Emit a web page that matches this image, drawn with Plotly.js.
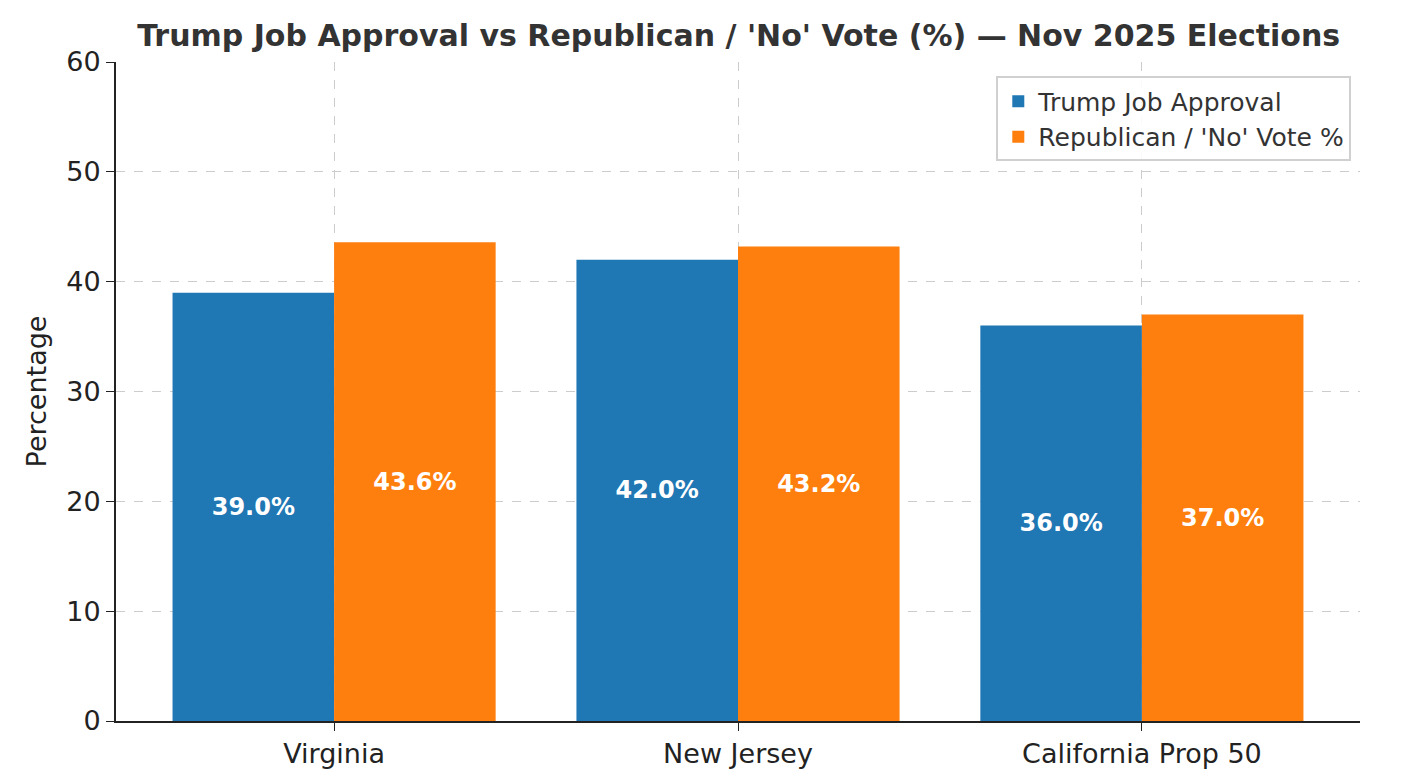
<!DOCTYPE html>
<html>
<head>
<meta charset="utf-8">
<script src="https://cdn.plot.ly/plotly-3.0.1.min.js"></script>
<style>body{margin:0;background:#fff}#app{width:1426px;height:780px}</style>
</head>
<body>
<div id="app"></div>
<script>
// chart data
let categories = ["Virginia", "New Jersey", "California Prop 50"];
let approval = [39.0, 42.0, 36.0];
let republican_vote = [43.6, 43.2, 37.0];
let series_names = ["Trump Job Approval", "Republican / 'No' Vote %"];
let series_colors = ["#1f77b4", "#ff7f0e"];
let y_ticks = [0, 10, 20, 30, 40, 50, 60];

function display() {
    let root = document.getElementById("app");
    let font = "DejaVu Sans, sans-serif";

    // build one bar trace per series
    let data = [approval, republican_vote].map((values, i) => ({
        type: "bar",
        name: series_names[i],
        x: categories,
        y: values,
        marker: {color: series_colors[i]},
        text: values.map(v => v.toFixed(1) + "%"),
        textposition: "inside",
        insidetextanchor: "middle",
        textangle: 0,
        textfont: {color: "white", size: 24, family: font, weight: "bold"},
        hoverinfo: "skip"
    }));

    let grid = {showgrid: true, gridcolor: "#cccccc", griddash: "dash", gridwidth: 1};

    let layout = {
        width: 1426,
        height: 780,
        barmode: "group",
        bargap: 0.2,
        bargroupgap: 0,
        paper_bgcolor: "white",
        plot_bgcolor: "white",
        font: {family: font, color: "#222", size: 27},
        margin: {l: 116, r: 66, t: 62, b: 59},
        title: {
            text: "<b>Trump Job Approval vs Republican / 'No' Vote (%) — Nov 2025 Elections</b>",
            font: {size: 30, color: "#333"},
            x: 0.518, xanchor: "center", y: 0.955, yanchor: "middle"
        },
        xaxis: Object.assign({
            range: [-0.54, 2.54],
            showline: true, linecolor: "#222", linewidth: 2,
            ticks: "outside", ticklen: 8, tickcolor: "#222",
            zeroline: false
        }, grid),
        yaxis: Object.assign({
            range: [0, 60],
            tickvals: y_ticks,
            showline: true, linecolor: "#222", linewidth: 2,
            ticks: "outside", ticklen: 8, tickcolor: "#222",
            zeroline: false,
            title: {text: "Percentage", font: {size: 27}, standoff: 12}
        }, grid),
        legend: {
            x: 0.993, xanchor: "right", y: 0.978, yanchor: "top",
            bgcolor: "rgba(255,255,255,0.9)",
            bordercolor: "#d0d0d0", borderwidth: 2,
            font: {size: 25, color: "#333"}
        },
        showlegend: true
    };

    Plotly.newPlot(root, data, layout, {displayModeBar: false});
}

display();
</script>
</body>
</html>
